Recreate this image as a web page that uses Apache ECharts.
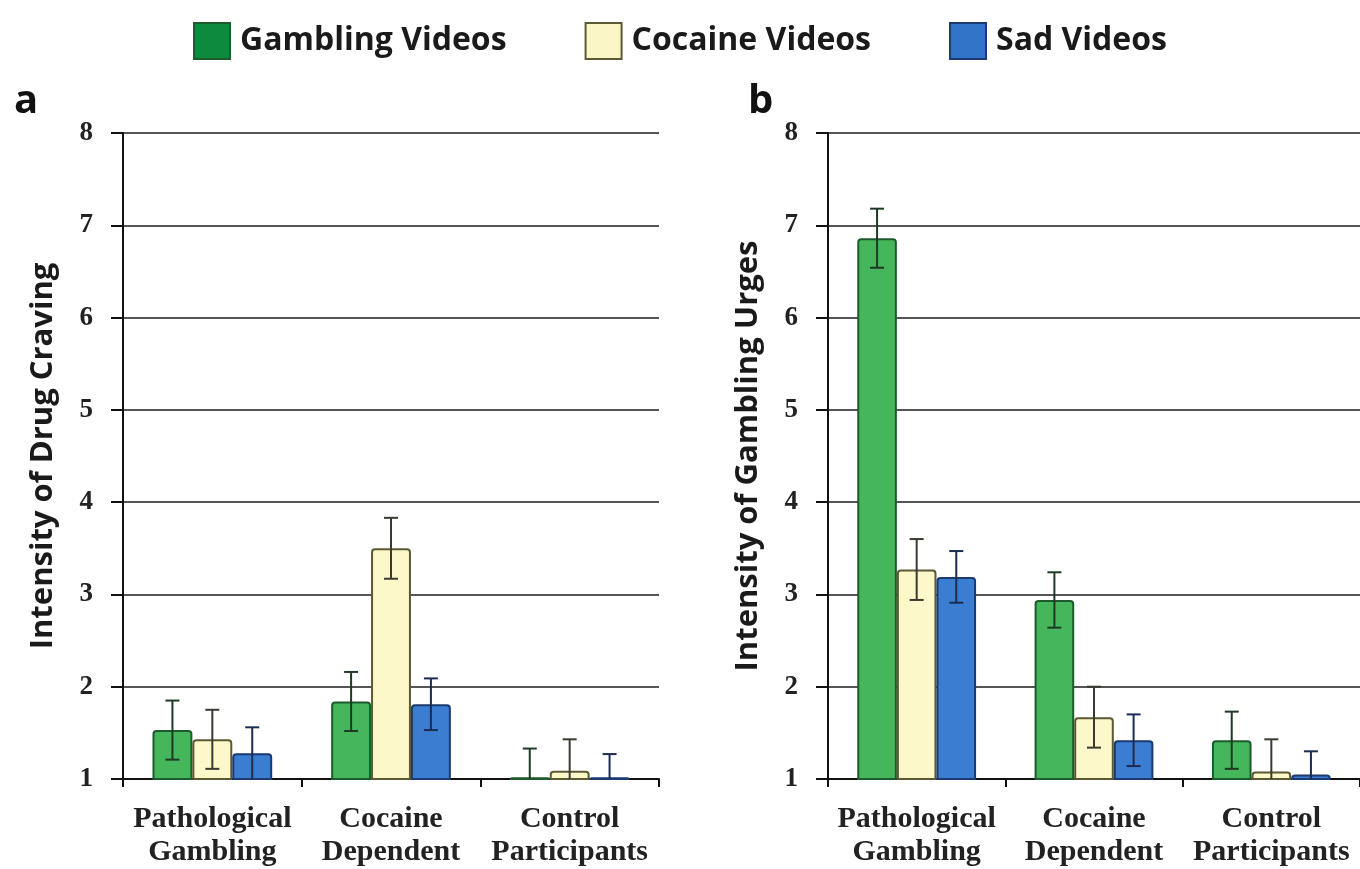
<!DOCTYPE html>
<html>
<head>
<meta charset="utf-8">
<script src="https://cdn.jsdelivr.net/npm/echarts@6/dist/echarts.min.js"></script>
<style>
  html, body { margin: 0; padding: 0; background: #fff; }
  #chart { width: 1360px; height: 869px; }
</style>
</head>
<body>
<div id="chart"></div>
<script>
// categories and legend names
const categories = ['Pathological\nGambling', 'Cocaine\nDependent', 'Control\nParticipants'];
const seriesNames = ['Gambling Videos', 'Cocaine Videos', 'Sad Videos'];

// panel a - intensity of drug craving (mean, error)
const cravingGambling = [1.53, 1.84, 1.02];
const cravingCocaine = [1.43, 3.5, 1.09];
const cravingSad = [1.28, 1.81, 1.02];
const cravingGamblingErr = [0.32, 0.32, 0.31];
const cravingCocaineErr = [0.32, 0.33, 0.34];
const cravingSadErr = [0.28, 0.28, 0.25];

// panel b - intensity of gambling urges (mean, error)
const urgeGambling = [6.86, 2.94, 1.42];
const urgeCocaine = [3.27, 1.67, 1.08];
const urgeSad = [3.19, 1.42, 1.05];
const urgeGamblingErr = [0.32, 0.30, 0.31];
const urgeCocaineErr = [0.33, 0.33, 0.35];
const urgeSadErr = [0.28, 0.28, 0.25];

const yMin = 1, yMax = 8, yStep = 1;

const fills = ['#45b65b', '#fdf8c9', '#3b7dd0'];
const borders = ['#1d5a2c', '#5d5834', '#1a3a70'];
const errColors = ['#1f3a24', '#3a3a30', '#1b2c52'];
const CAT_GAP = 0.33;

const serifFont = "'Liberation Serif', serif";
const sansFont = "'Open Sans', sans-serif";

function barSeries(i, grid, values) {
  return {
    type: 'bar',
    name: seriesNames[i],
    xAxisIndex: grid,
    yAxisIndex: grid,
    data: values,
    barGap: '0%',
    barCategoryGap: (CAT_GAP * 100) + '%',
    z: 3,
    itemStyle: {
      color: fills[i],
      borderColor: borders[i],
      borderWidth: 2,
      borderRadius: [3, 3, 0, 0]
    }
  };
}

function errSeries(i, grid, values, errs) {
  return {
    type: 'custom',
    name: 'err' + grid + i,
    xAxisIndex: grid,
    yAxisIndex: grid,
    z: 6,
    silent: true,
    data: values.map((v, k) => [k, v, errs[k]]),
    renderItem: function (params, api) {
      const c = api.value(0), v = api.value(1), e = api.value(2);
      const band = api.size([1, 0])[0];
      const bw = band * (1 - CAT_GAP) / 3;
      const x = api.coord([c, v])[0] + (i - 1) * bw;
      const yTop = api.coord([c, v + e])[1];
      const lowV = Math.max(v - e, yMin);
      const yBot = api.coord([c, lowV])[1];
      const half = 7;
      const st = { stroke: errColors[i], lineWidth: 2 };
      const kids = [
        { type: 'line', shape: { x1: x, y1: yTop, x2: x, y2: yBot }, style: st },
        { type: 'line', shape: { x1: x - half, y1: yTop, x2: x + half, y2: yTop }, style: st }
      ];
      if (v - e > yMin) {
        kids.push({ type: 'line', shape: { x1: x - half, y1: yBot, x2: x + half, y2: yBot }, style: st });
      }
      return { type: 'group', children: kids };
    }
  };
}

function xAxis(grid) {
  return {
    type: 'category',
    gridIndex: grid,
    data: categories,
    axisLine: { lineStyle: { color: '#111', width: 2 } },
    axisTick: { show: true, length: 8, lineStyle: { color: '#111', width: 2 } },
    axisLabel: {
      interval: 0,
      hideOverlap: false,
      color: '#222',
      fontFamily: serifFont,
      fontWeight: 'bold',
      fontSize: 30,
      lineHeight: 33,
      margin: 24
    }
  };
}

function yAxis(grid, title) {
  return {
    type: 'value',
    gridIndex: grid,
    min: yMin,
    max: yMax,
    interval: yStep,
    name: title,
    nameLocation: 'middle',
    nameGap: 64,
    nameRotate: 90,
    nameTextStyle: { color: '#1a1a1a', fontFamily: sansFont, fontWeight: 'bold', fontSize: 31 },
    axisLine: { show: true, lineStyle: { color: '#111', width: 2 } },
    axisTick: { show: true, length: 12, lineStyle: { color: '#111', width: 2 } },
    axisLabel: {
      color: '#222',
      fontFamily: serifFont,
      fontWeight: 'bold',
      fontSize: 27,
      margin: 30
    },
    splitLine: { show: true, lineStyle: { color: '#555', width: 2 } }
  };
}

const option = {
  backgroundColor: '#fff',
  animation: false,
  legend: {
    top: 17,
    left: 'center',
    itemWidth: 36,
    itemHeight: 36,
    itemGap: 78,
    icon: 'rect',
    textStyle: { color: '#1a1a1a', fontFamily: sansFont, fontWeight: 'bold', fontSize: 32, padding: [0, 0, 0, 5] },
    data: seriesNames.map((n, i) => ({
      name: n,
      itemStyle: { color: ['#0e8a3f', '#fbf6c5', '#3274c8'][i], borderColor: borders[i], borderWidth: 2 }
    }))
  },
  grid: [
    { left: 123, top: 133, width: 536, height: 646 },
    { left: 828, top: 133, width: 536, height: 646 }
  ],
  xAxis: [xAxis(0), xAxis(1)],
  yAxis: [yAxis(0, 'Intensity of Drug Craving'), yAxis(1, 'Intensity of Gambling Urges')],
  graphic: [
    { type: 'text', left: 14, top: 82, style: { text: 'a', fontFamily: sansFont, fontWeight: 'bold', fontSize: 40, fill: '#111' } },
    { type: 'text', left: 748, top: 82, style: { text: 'b', fontFamily: sansFont, fontWeight: 'bold', fontSize: 40, fill: '#111' } }
  ],
  series: [
    barSeries(0, 0, cravingGambling),
    barSeries(1, 0, cravingCocaine),
    barSeries(2, 0, cravingSad),
    barSeries(0, 1, urgeGambling),
    barSeries(1, 1, urgeCocaine),
    barSeries(2, 1, urgeSad),
    errSeries(0, 0, cravingGambling, cravingGamblingErr),
    errSeries(1, 0, cravingCocaine, cravingCocaineErr),
    errSeries(2, 0, cravingSad, cravingSadErr),
    errSeries(0, 1, urgeGambling, urgeGamblingErr),
    errSeries(1, 1, urgeCocaine, urgeCocaineErr),
    errSeries(2, 1, urgeSad, urgeSadErr)
  ]
};

const chart = echarts.init(document.getElementById('chart'));
chart.setOption(option);
</script>
</body>
</html>
